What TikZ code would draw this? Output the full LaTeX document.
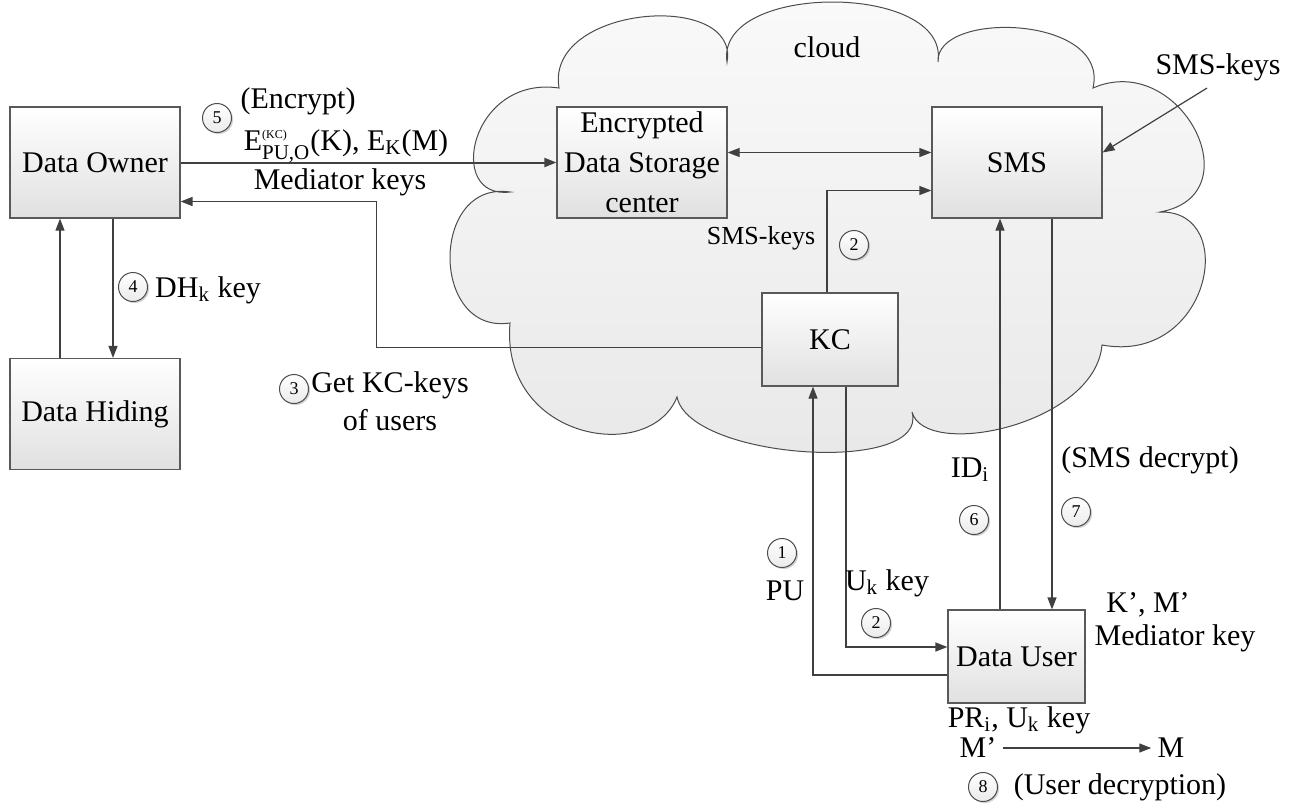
\documentclass[tikz,border=0pt]{standalone}
\usepackage{amsmath}
\usepackage{fontspec}
\setmainfont{Liberation Serif}
\usepackage{tikz}
\usetikzlibrary{arrows.meta,positioning,shadows}

\begin{document}
\begin{tikzpicture}[x=0.5pt,y=-0.5pt,font=\fontsize{15}{19}\selectfont,
>={Triangle[length=6pt,width=4.5pt]},
every node/.style={inner sep=1.5pt},
box/.style={draw=black!65,line width=0.6pt,top color=white,bottom color=black!12,
  minimum width=85pt,minimum height=55.5pt,align=center,inner sep=3pt},
numcirc/.style={circle,draw=black!70,line width=0.5pt,top color=white,bottom color=black!8,
  minimum size=14.5pt,inner sep=0pt,font=\fontsize{9}{9}\selectfont,
  drop shadow={shadow xshift=0.8pt,shadow yshift=-0.8pt,fill=black!35}},
arr/.style={draw=black!75,line width=0.6pt,->}]
\useasboundingbox (0,0) rectangle (1301,809);

% cloud
\path[draw=black!70,line width=0.5pt,top color=black!2,bottom color=black!9]
  (559,88) .. controls (545,5) and (740,-10) .. (727,62)
  .. controls (715,-18) and (950,-18) .. (938,62)
  .. controls (935,10) and (1110,15) .. (1093,88)
  .. controls (1180,50) and (1255,195) .. (1160,212)
  .. controls (1240,210) and (1210,365) .. (1102,345)
  .. controls (1095,425) and (925,460) .. (912,412)
  .. controls (930,475) and (690,460) .. (677,397)
  .. controls (650,465) and (500,440) .. (510,323)
  .. controls (430,335) and (430,180) .. (510,192)
  .. controls (445,200) and (470,75) .. (559,88) -- cycle;
\node (cloudlbl) at (827,47) {cloud};

% boxes
\node[box] (owner) at (95,162.5) {Data Owner};
\node[box] (hiding) at (95,414) {Data Hiding};
\node[box,inner sep=1.5pt,font=\fontsize{15}{20}\selectfont] (storage) at (642,162.5) {Encrypted\\Data Storage\\center};
\node[box] (sms) at (1017,162.5) {SMS};
\node[box,minimum width=68pt,minimum height=46.5pt] (kc) at (830,339.5) {KC};
\node[box,minimum width=68.5pt,minimum height=46.5pt] (user) at (1016.5,656.5) {Data User};

% connectors
\draw[arr,line width=1pt] (owner) -- (storage);
\draw[arr,<->] ([yshift=5pt]storage.east) -- ([yshift=5pt]sms.west);
\draw[arr] ([xshift=-1.5pt]kc.north) |- ([yshift=-14pt]sms.west);
\draw[arr,line width=0.8pt] ([yshift=-4pt]kc.west) -| ([xshift=98pt,yshift=-19.5pt]owner.east) -- ([yshift=-19.5pt]owner.east);
\draw[arr] ([xshift=9pt]owner.south) -- ([xshift=9pt]hiding.north);
\draw[arr] ([xshift=-17.5pt]hiding.north) -- ([xshift=-17.5pt]owner.south);
\node (smskeys) at (1218,67) {SMS-keys};
\draw[arr] ([xshift=-5.5pt,yshift=-2pt]smskeys.south) -- ([yshift=5pt]sms.east);
\draw[arr] ([xshift=-8.25pt]user.north) -- ([xshift=-8.25pt]user.north |- sms.south);
\draw[arr] ([xshift=17.5pt]sms.south) -- ([xshift=17.5pt]sms.south |- user.north);
\draw[arr] ([xshift=8pt]kc.south) |- ([yshift=4.75pt]user.west);
\draw[arr] ([yshift=-9.25pt]user.west) -| ([xshift=-8.5pt]kc.south);

% labels
\node[numcirc] (n5) at (217,118) {5};
\node (encrypt) at (298,101) {(Encrypt)};
\node (ekey) at (346,146) {E$_{\text{PU,O}}^{\text{\fontsize{6}{6}\selectfont(KC)}}$(K), E$_{\text{K}}$(M)};
\node (medkeys) at (340,182) {Mediator keys};
\node[numcirc] (n4) at (133,287) {4};
\node (dhkey) at (208,290) {DH$_{\text{k}}$ key};
\node[numcirc] (n3) at (294,389) {3};
\node[align=center] (getkc) at (390,401) {Get KC-keys\\of users};
\node[font=\fontsize{13}{15}\selectfont] (smskeysmid) at (761,238) {SMS-keys};
\node[numcirc] (n2a) at (854,245) {2};
\node (idi) at (970,470) {ID$_{\text{i}}$};
\node[numcirc] (n6) at (974,520) {6};
\node (smsdec) at (1150,460) {(SMS decrypt)};
\node[numcirc] (n7) at (1076,512) {7};
\node[numcirc] (n1) at (782,553) {1};
\node (pu) at (785,591) {PU};
\node (ukey) at (887,583) {U$_{\text{k}}$ key};
\node[numcirc] (n2b) at (876,623) {2};
\node (kmp) at (1148,605) {K’, M’};
\node (medkey) at (1175,638) {Mediator key};
\node (prkey) at (1019,720) {PR$_{\text{i}}$, U$_{\text{k}}$ key};
\node[inner sep=3pt] (mp) at (978,748) {M’};
\node[inner sep=3pt] (m) at (1171,748) {M};
\draw[arr] (mp) -- (m);
\node[numcirc] (n8) at (983,787) {8};
\node (userdec) at (1120,787) {(User decryption)};
\end{tikzpicture}
\end{document}
